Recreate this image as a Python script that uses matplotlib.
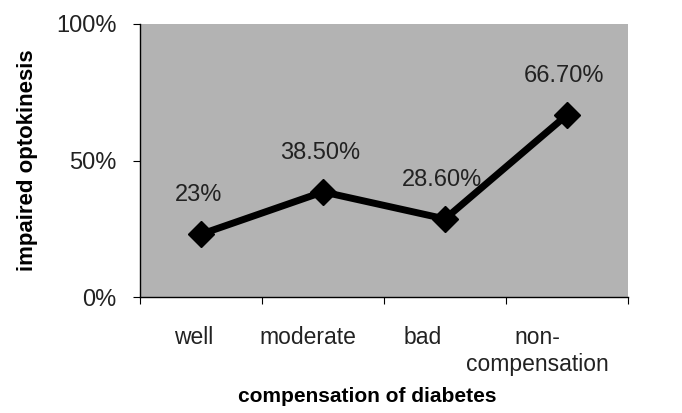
import matplotlib
matplotlib.use("Agg")
import matplotlib.pyplot as plt
import matplotlib.ticker as ticker

plt.rcParams["font.family"] = ["Liberation Sans", "DejaVu Sans"]

categories = ["well", "moderate", "bad", "non-\ncompensation"]
values = [23.0, 38.5, 28.6, 66.7]
value_labels = ["23%", "38.50%", "28.60%", "66.70%"]

fig = plt.figure(figsize=(6.82, 4.13), dpi=100)
ax = fig.add_axes([140 / 682, 1 - 297 / 413, 488 / 682, 273 / 413])
ax.set_facecolor("#b3b3b3")

positions = [i + 0.5 for i in range(len(categories))]
ax.plot(positions, values, color="black", linewidth=5, marker="D", markersize=13)

for x, y, lab in zip(positions, values, value_labels):
    ax.annotate(lab, (x, y), xytext=(-2, 28), textcoords="offset points",
                ha="center", va="center", fontsize=17, color="#222222")

ax.set_xlim(0, len(categories))
ax.set_ylim(0, 100)
ax.set_xticks(range(len(categories) + 1))
ax.set_xticklabels([])
# category names sit a little left of the group centres
label_pos = [0.44 + 0.94 * i for i in range(len(categories))]
ax.set_xticks(label_pos, minor=True)
ax.set_xticklabels(categories, minor=True, fontsize=16.5, color="#222222")
ax.tick_params(axis="x", which="minor", length=0, pad=21)
ax.tick_params(axis="x", which="major", length=5, direction="out")
ax.yaxis.set_major_locator(ticker.MultipleLocator(50))
ax.yaxis.set_major_formatter(ticker.FormatStrFormatter("%d%%"))
ax.tick_params(axis="y", length=5, direction="out", labelsize=17, labelcolor="#222222", pad=12)

for side in ["top", "right"]:
    ax.spines[side].set_visible(False)
for side in ["left", "bottom"]:
    ax.spines[side].set_linewidth(1)

ax.set_ylabel("impaired optokinesis", fontsize=16, fontweight="bold")
ax.yaxis.set_label_coords(-112 / 488, 0.5)
ax.set_xlabel("compensation of diabetes", fontsize=15, fontweight="bold")
ax.xaxis.set_label_coords(0.465, -(396 - 297) / 273)
ax.xaxis.label.set_va("center")
ax.yaxis.label.set_va("center")

plt.savefig("out.png", dpi=100)
